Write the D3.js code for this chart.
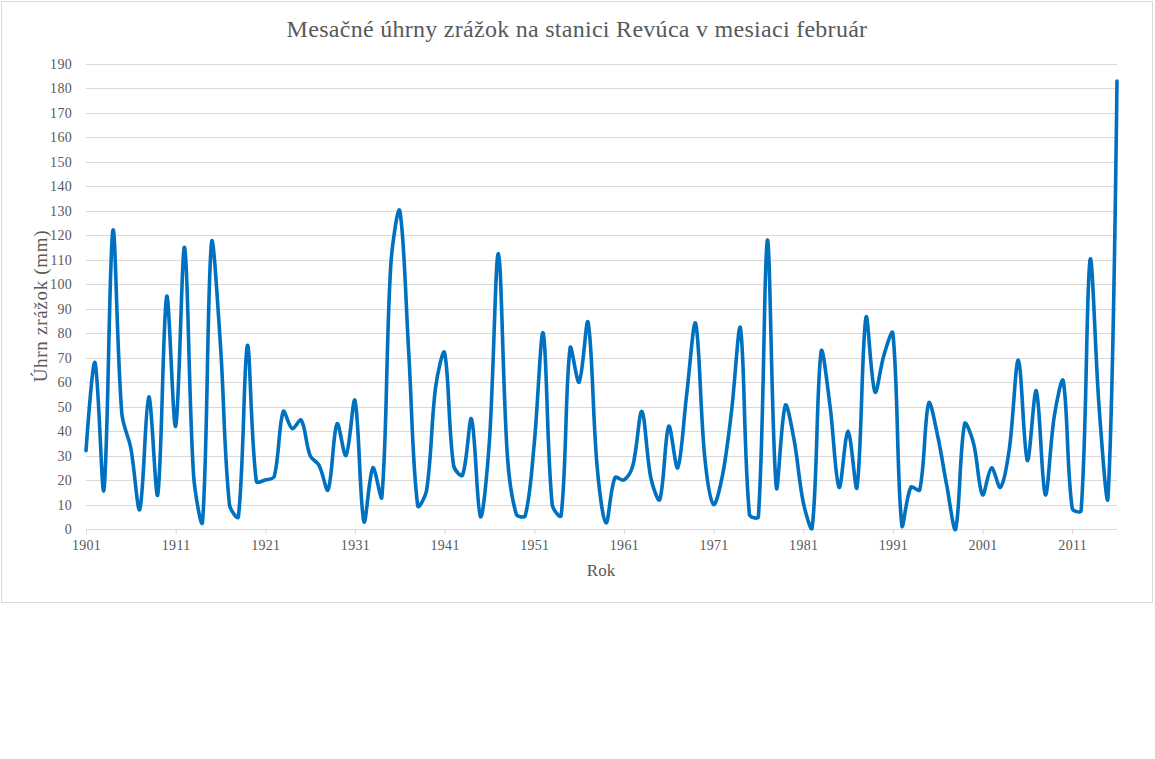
<!DOCTYPE html>
<html>
<head>
<meta charset="utf-8">
<script src="https://cdn.jsdelivr.net/npm/d3@7"></script>
<style>
  html, body { margin: 0; padding: 0; background: #fff; }
  svg { display: block; }
</style>
</head>
<body>
<svg id="chart" width="1155" height="759"></svg>
<script>
const title = "Mesačné úhrny zrážok na stanici Revúca v mesiaci február";
const yTitle = "Úhrn zrážok (mm)";
const xTitle = "Rok";
const years = d3.range(1901, 2017);
const precip = [
  32, 68, 16, 122, 47, 33, 8, 54, 14, 95,
  42, 115, 22, 3, 117, 75, 10, 5, 75, 19.5,
  20, 21.5, 48, 41, 44.5, 30, 26, 16, 43, 30,
  52.5, 3, 25, 13, 108, 130, 72, 9.5, 16, 58,
  72, 26, 22, 45, 5, 36, 112.5, 30, 6, 5.5,
  35, 80, 10, 5.5, 74, 60, 84.5, 26, 2.5, 21,
  20, 26, 48, 21, 12, 42, 25, 55, 84, 30,
  10, 22, 48, 82, 6, 5, 118, 17, 50.5, 36,
  11, 0.5, 72.5, 50, 17, 40, 17, 86.5, 56, 71,
  80, 1.5, 17, 16, 51.5, 38, 18, 0, 43, 35,
  14, 25, 17, 33, 69, 28, 56.5, 14, 46, 60.5,
  8.5, 7.5, 110, 50, 13, 183
];
const xTickYears = d3.range(1901, 2017, 10);
const yTicks = d3.range(0, 200, 10);

// Excel-like smoothed line: cubic Bezier with chord-weighted Catmull-Rom tangents
function ExcelSmooth(context) { this._context = context; }
ExcelSmooth.prototype = {
  areaStart() {}, areaEnd() {},
  lineStart() { this._pts = []; },
  point(px, py) { this._pts.push([+px, +py]); },
  lineEnd() {
    const p = this._pts, n = p.length, c = this._context;
    if (!n) return;
    c.moveTo(p[0][0], p[0][1]);
    if (n === 1) return;
    const dist = (a, b) => Math.hypot(a[0] - b[0], a[1] - b[1]);
    const handles = p.map((pt, i) => {
      if (i === 0 || i === n - 1) return { inH: [0, 0], outH: [0, 0] };
      const a = p[i - 1], b = p[i + 1];
      const d0 = dist(a, pt), d1 = dist(pt, b), s = d0 + d1 || 1;
      const T = [b[0] - a[0], b[1] - a[1]];
      return {
        inH: [T[0] / 3 * d0 / s, T[1] / 3 * d0 / s],
        outH: [T[0] / 3 * d1 / s, T[1] / 3 * d1 / s]
      };
    });
    for (let i = 0; i < n - 1; i++) {
      const P1 = p[i], P2 = p[i + 1];
      const o = handles[i].outH, h = handles[i + 1].inH;
      c.bezierCurveTo(P1[0] + o[0], P1[1] + o[1], P2[0] - h[0], P2[1] - h[1], P2[0], P2[1]);
    }
  }
};
const curveExcel = ctx => new ExcelSmooth(ctx);

const svg = d3.select("#chart");
const font = "'Liberation Serif', 'Times New Roman', serif";
const textColor = "#595959";

// chart area border
svg.append("rect").attr("x", 1.5).attr("y", 1.5).attr("width", 1151).attr("height", 601)
  .attr("fill", "#fff").attr("stroke", "#d9d9d9").attr("stroke-width", 1);

const pL = 86, pR = 1117, pT = 64, pB = 529;
const x = d3.scaleLinear().domain([1901, 2016]).range([pL, pR]);
const y = d3.scaleLinear().domain([0, 190]).range([pB, pT]);

// gridlines
svg.append("g").selectAll("line").data(yTicks.filter(d => d > 0)).join("line")
  .attr("x1", pL).attr("x2", pR)
  .attr("y1", d => Math.round(y(d)) + 0.5).attr("y2", d => Math.round(y(d)) + 0.5)
  .attr("stroke", "#d9d9d9").attr("stroke-width", 1);

// y axis labels
const yAxis = d3.axisLeft(y).tickValues(yTicks).tickSize(0).tickPadding(14);
const gy = svg.append("g").attr("transform", `translate(${pL},0)`).call(yAxis);
gy.select(".domain").remove();
gy.selectAll("text").attr("font-family", font).attr("font-size", 14).attr("fill", textColor)
  .attr("letter-spacing", 0.3);

// x axis
const xAxis = d3.axisBottom(x).tickValues(xTickYears).tickFormat(d3.format("d")).tickSize(5).tickPadding(6);
const gx = svg.append("g").attr("transform", `translate(0,${Math.round(pB) + 0.5})`).call(xAxis);
gx.select(".domain").attr("stroke", "#d9d9d9").attr("d", `M${pL},0H${pR}`);
gx.selectAll(".tick line").attr("stroke", "#d9d9d9");
gx.selectAll("text").attr("font-family", font).attr("font-size", 14).attr("fill", textColor)
  .attr("letter-spacing", 0.3);

// line
const data = years.map((yr, i) => ({ yr, v: precip[i] }));
const line = d3.line().x(d => x(d.yr)).y(d => y(d.v)).curve(curveExcel);
svg.append("path").datum(data).attr("d", line)
  .attr("fill", "none").attr("stroke", "#0070c0").attr("stroke-width", 3.6)
  .attr("stroke-linejoin", "round").attr("stroke-linecap", "round");

// titles
svg.append("text").attr("x", 577).attr("y", 37).attr("text-anchor", "middle")
  .attr("font-family", font).attr("font-size", 24).attr("letter-spacing", 0.28)
  .attr("fill", textColor).text(title);
svg.append("text").attr("x", 601).attr("y", 576).attr("text-anchor", "middle")
  .attr("font-family", font).attr("font-size", 17).attr("fill", textColor).text(xTitle);
svg.append("text").attr("transform", `translate(47,306) rotate(-90)`)
  .attr("text-anchor", "middle")
  .attr("font-family", font).attr("font-size", 19).attr("letter-spacing", 0.7)
  .attr("fill", textColor).text(yTitle);
</script>
</body>
</html>
